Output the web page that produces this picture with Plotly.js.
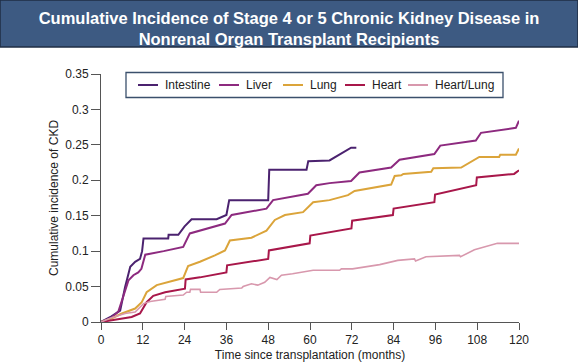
<!DOCTYPE html>
<html>
<head>
<meta charset="utf-8">
<script src="https://cdn.plot.ly/plotly-3.0.1.min.js"></script>
<style>html,body{margin:0;padding:0;background:#fff;}#chart{width:578px;height:363px;}</style>
</head>
<body>
<div id="chart"></div>
<script>
// ---- data ----
const seriesNames = ["Intestine", "Liver", "Lung", "Heart", "Heart/Lung"];

const intestineMonths = [0, 3, 5.5, 6.9, 8.4, 9.8, 11.2, 11.8, 12.2, 19.3, 19.4, 22.2, 24, 26, 33.2, 36, 36.8, 48, 48.3, 59, 59.5, 65.6, 71.8, 73.3];
const intestineValues = [0, 0.008, 0.016, 0.049, 0.078, 0.085, 0.089, 0.1, 0.118, 0.118, 0.123, 0.123, 0.135, 0.145, 0.145, 0.151, 0.172, 0.172, 0.215, 0.215, 0.227, 0.228, 0.246, 0.246];

const liverMonths = [0, 3, 5, 6.4, 7.9, 9.3, 10.7, 11.6, 12.7, 18, 23.6, 25.5, 28.4, 35.6, 37.5, 47.5, 49.4, 59.4, 61.8, 65.6, 71.8, 74.2, 83.3, 85.7, 95.7, 97.4, 107.6, 109.1, 119.1, 120];
const liverValues = [0, 0.006, 0.015, 0.037, 0.059, 0.066, 0.070, 0.075, 0.095, 0.1, 0.106, 0.125, 0.129, 0.139, 0.151, 0.160, 0.172, 0.181, 0.193, 0.196, 0.199, 0.211, 0.218, 0.229, 0.237, 0.249, 0.256, 0.267, 0.274, 0.284];

const lungMonths = [0, 3, 6, 9.8, 11.7, 13.1, 16, 23.6, 25, 28.4, 32.7, 35.6, 37, 43.2, 47.5, 49.9, 52.8, 58, 60.9, 65.6, 70.9, 72.8, 83.3, 84.3, 86.2, 86.8, 94.8, 95.4, 103.4, 108.6, 114.3, 114.6, 119.1, 120];
const lungValues = [0, 0.005, 0.012, 0.019, 0.028, 0.042, 0.052, 0.062, 0.079, 0.085, 0.094, 0.101, 0.115, 0.119, 0.129, 0.144, 0.151, 0.155, 0.169, 0.172, 0.179, 0.185, 0.194, 0.206, 0.207, 0.209, 0.212, 0.217, 0.218, 0.233, 0.233, 0.236, 0.236, 0.245];

const heartMonths = [0, 4, 8.8, 11.2, 13.1, 15, 18.4, 24.1, 24.3, 28.4, 36, 36.2, 48, 48.2, 59.9, 60.1, 65.6, 71.9, 72.1, 83.8, 84, 95.7, 95.9, 107.7, 107.9, 118.6, 120];
const heartValues = [0, 0.003, 0.007, 0.012, 0.028, 0.037, 0.042, 0.047, 0.060, 0.063, 0.070, 0.080, 0.089, 0.101, 0.111, 0.122, 0.127, 0.132, 0.143, 0.151, 0.160, 0.169, 0.180, 0.193, 0.204, 0.209, 0.214];

const heartLungMonths = [0, 3, 6.9, 9.8, 12.2, 14.1, 18.4, 18.6, 23.6, 24.6, 25.5, 25.7, 28.4, 28.6, 33.2, 34.1, 40.4, 40.8, 43.2, 45, 47, 48.5, 50.5, 51.8, 55, 57.5, 60.9, 65.6, 68.5, 69, 72.2, 80, 85.2, 90, 90.3, 93.3, 102.9, 103.2, 107.2, 113.8, 120];
const heartLungValues = [0, 0.006, 0.012, 0.014, 0.026, 0.029, 0.032, 0.036, 0.038, 0.042, 0.042, 0.046, 0.046, 0.042, 0.042, 0.046, 0.048, 0.050, 0.054, 0.052, 0.056, 0.063, 0.060, 0.066, 0.068, 0.070, 0.073, 0.073, 0.073, 0.075, 0.075, 0.081, 0.087, 0.089, 0.086, 0.092, 0.094, 0.092, 0.102, 0.111, 0.111];

const xTickVals = [0, 12, 24, 36, 48, 60, 72, 84, 96, 108, 120];
const xTickText = ["0", "12", "24", "36", "48", "60", "72", "84", "96", "108", "120"];
const yTickVals = [0, 0.05, 0.1, 0.15, 0.2, 0.25, 0.3, 0.35];
const yTickText = ["0", "0.05", "0.1", "0.15", "0.2", "0.25", "0.3", "0.35"];

const titleText = "Cumulative Incidence of Stage 4 or 5 Chronic Kidney Disease in<br>Nonrenal Organ Transplant Recipients";
const xTitle = "Time since transplantation (months)";
const yTitle = "Cumulative incidence of CKD";

// ---- styling ----
const colors = ["#4b226f", "#8d2a7f", "#dba43a", "#a8174a", "#d898ad"];
const widths = [2, 2, 2, 2, 1.6];
const FONT = "Liberation Sans, Arial, Helvetica, sans-serif";

const W = 578, H = 363;
const M = {l: 101, r: 59, t: 74, b: 41};
const PW = W - M.l - M.r, PH = H - M.t - M.b;
const px2x = p => (p - M.l) / PW;
const py2y = p => (H - M.b - p) / PH;

const xs = [intestineMonths, liverMonths, lungMonths, heartMonths, heartLungMonths];
const ys = [intestineValues, liverValues, lungValues, heartValues, heartLungValues];

const traces = seriesNames.map((n, i) => ({
  type: "scatter", mode: "lines", name: n,
  x: xs[i], y: ys[i],
  line: {color: colors[i], width: widths[i]},
  showlegend: false, hoverinfo: "skip"
}));

// custom legend (layout elements)
const legendLineStart = [138, 219, 283, 345, 408];
const legendY = 85;
const shapes = [
  {type: "rect", xref: "paper", yref: "paper", layer: "below",
   x0: px2x(0), x1: px2x(578), y0: py2y(47), y1: py2y(0),
   fillcolor: "#3d5a82", line: {color: "#1f2e44", width: 1.5}},
  {type: "rect", xref: "paper", yref: "paper",
   x0: px2x(126), x1: px2x(503), y0: py2y(97.5), y1: py2y(72.5),
   fillcolor: "rgba(255,255,255,1)", line: {color: "#3b506c", width: 1.3}}
];
const annotations = [];
seriesNames.forEach((n, i) => {
  shapes.push({type: "line", xref: "paper", yref: "paper",
    x0: px2x(legendLineStart[i]), x1: px2x(legendLineStart[i] + 20),
    y0: py2y(legendY), y1: py2y(legendY),
    line: {color: colors[i], width: 2}});
  annotations.push({xref: "paper", yref: "paper", showarrow: false,
    x: px2x(legendLineStart[i] + 25), y: py2y(legendY),
    xanchor: "left", yanchor: "middle", text: n,
    font: {family: FONT, size: 12, color: "#222"}});
});

const axisCommon = {
  showline: true, linecolor: "#555", linewidth: 1,
  ticks: "outside", tickcolor: "#555", tickwidth: 1,
  showgrid: false, zeroline: false, fixedrange: true,
  tickfont: {family: FONT, size: 12, color: "#222"}
};

const layout = {
  width: W, height: H,
  margin: M,
  paper_bgcolor: "#fff", plot_bgcolor: "#fff",
  showlegend: false,
  title: {text: titleText, x: 0.5, xref: "paper", xanchor: "center",
          y: 1 - 24 / H, yref: "container", yanchor: "middle",
          font: {family: FONT, size: 16.5, color: "#ffffff", weight: "bold"}},
  xaxis: Object.assign({}, axisCommon, {
    range: [0, 120], tickvals: xTickVals, ticktext: xTickText, ticklen: 7,
    automargin: false,
    title: {text: xTitle, standoff: 4, font: {family: FONT, size: 12, color: "#222"}}
  }),
  yaxis: Object.assign({}, axisCommon, {
    range: [0, 0.35], tickvals: yTickVals, ticktext: yTickText, ticklen: 9,
    automargin: false,
    title: {text: yTitle, standoff: 4, font: {family: FONT, size: 12, color: "#222"}}
  }),
  shapes: shapes,
  annotations: annotations
};
layout.title.x = px2x(289);

Plotly.newPlot("chart", traces, layout, {staticPlot: true, displayModeBar: false});
</script>
</body>
</html>
